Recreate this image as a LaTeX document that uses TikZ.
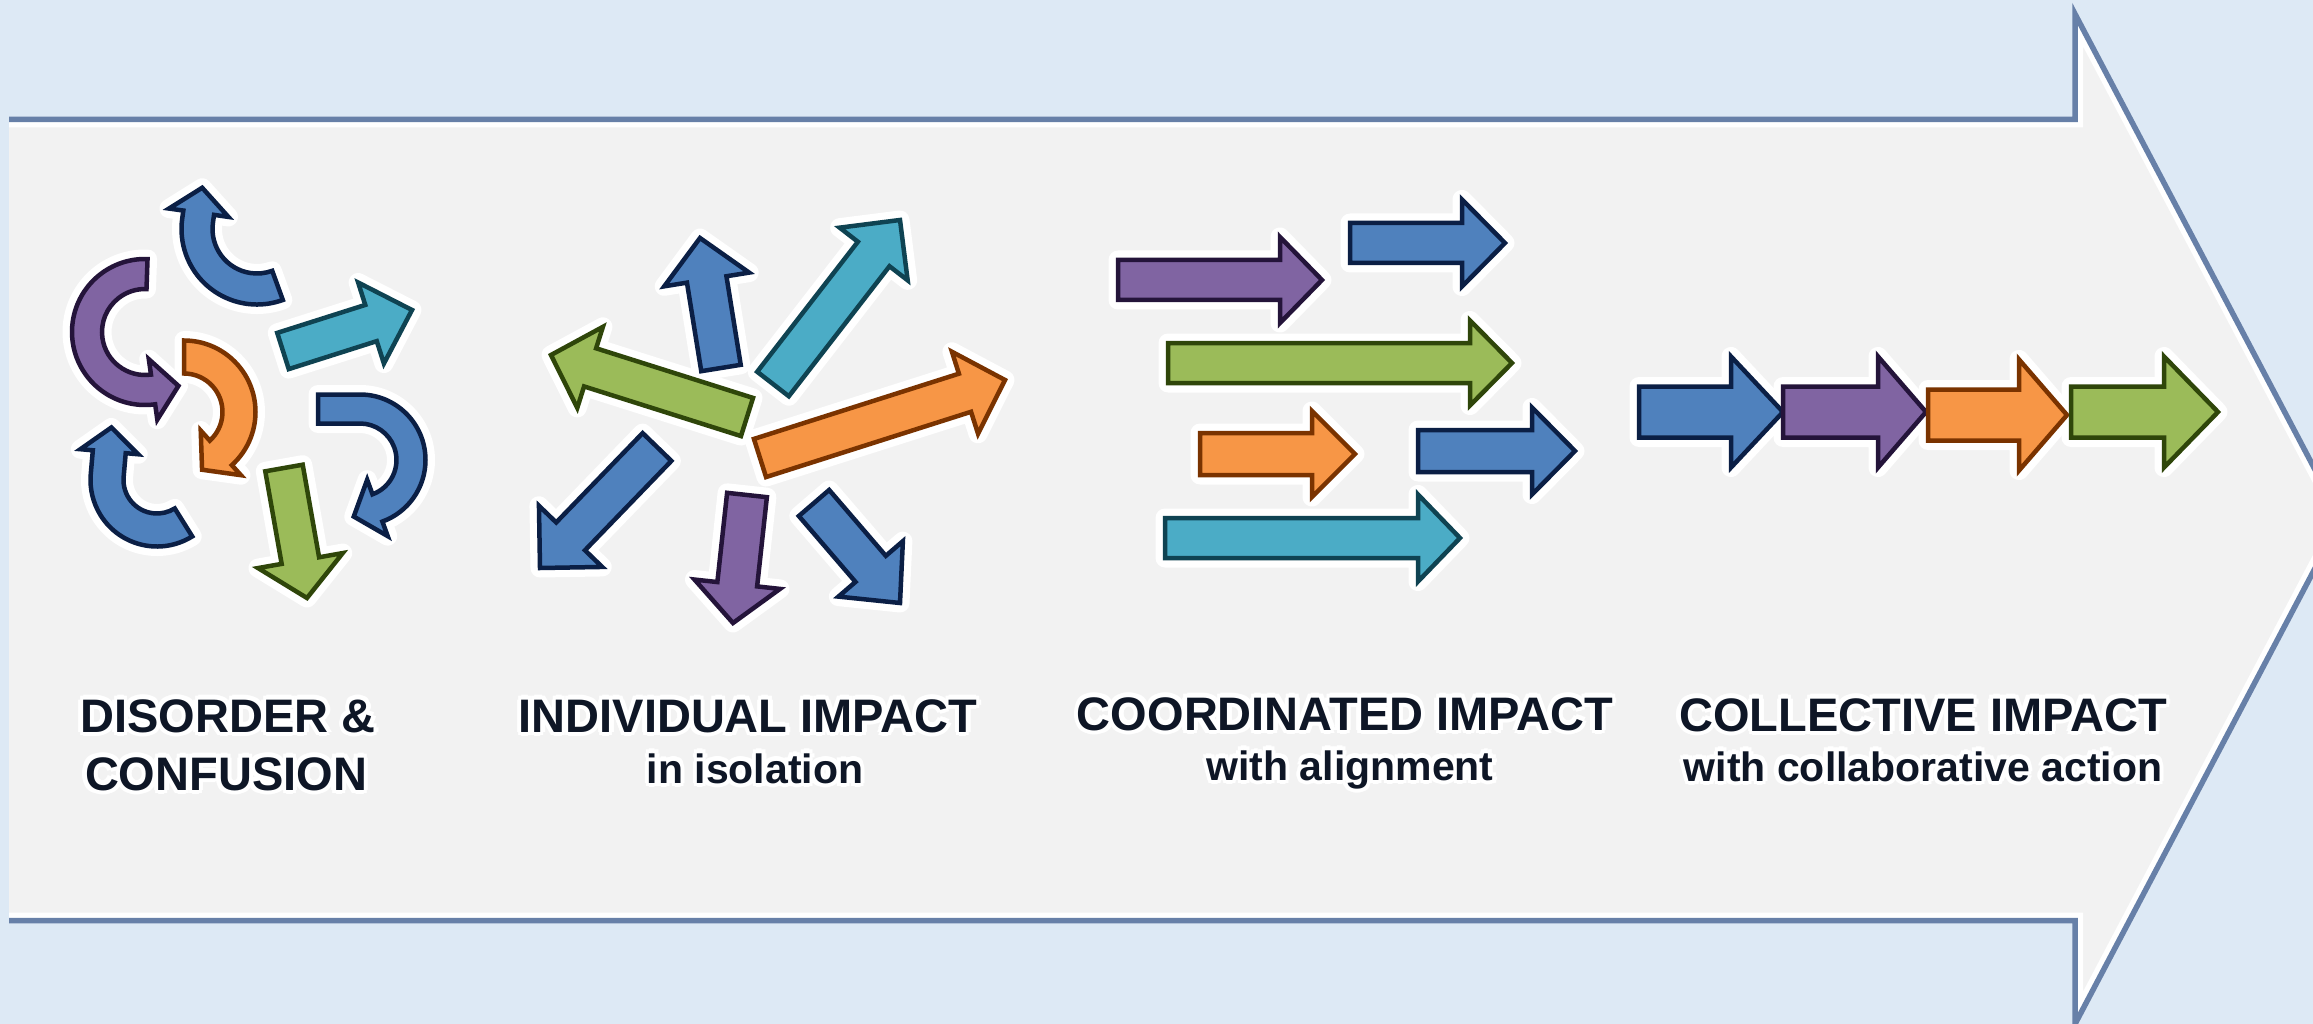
\documentclass[tikz,border=0pt]{standalone}
\usepackage{fontspec}
\setmainfont{Liberation Sans}
\usetikzlibrary{calc}
\definecolor{bg}{HTML}{DDE9F5}
\definecolor{panel}{HTML}{F2F2F2}
\definecolor{panelline}{HTML}{6780A8}
\definecolor{Bf}{HTML}{4F81BD}\definecolor{Bd}{HTML}{0B1F45}
\definecolor{Pf}{HTML}{8064A2}\definecolor{Pd}{HTML}{24143A}
\definecolor{Cf}{HTML}{4BACC6}\definecolor{Cd}{HTML}{0F4352}
\definecolor{Gf}{HTML}{9BBB59}\definecolor{Gd}{HTML}{2F460A}
\definecolor{Of}{HTML}{F79646}\definecolor{Od}{HTML}{7A3300}
\definecolor{txt}{HTML}{0E1626}
\tikzset{
  glowpass/.style={draw=white,fill=white,line width=19pt,line join=round},
  bodypass/.style={line width=4.5pt,line join=miter},
  cblue/.style={fill=Bf,draw=Bd},
  cpurple/.style={fill=Pf,draw=Pd},
  ccyan/.style={fill=Cf,draw=Cd},
  cgreen/.style={fill=Gf,draw=Gd},
  corange/.style={fill=Of,draw=Od},
  ttl/.style={font=\fontsize{47}{56}\selectfont\bfseries,text=txt,anchor=base,inner sep=0pt},
  sub/.style={font=\fontsize{41}{50}\selectfont\bfseries,text=txt,anchor=base,inner sep=0pt},
  pass/.style={bodypass}
}
% white halo behind text: shifted white copies
\newcommand\hcopy[3]{\rlap{\kern#1pt\raisebox{#2pt}{\color{white}#3}}}
\newcommand\gtext[1]{\hcopy{4.5}{0}{#1}\hcopy{-4.5}{0}{#1}\hcopy{0}{4.5}{#1}\hcopy{0}{-4.5}{#1}%
  \hcopy{3.2}{3.2}{#1}\hcopy{-3.2}{3.2}{#1}\hcopy{3.2}{-3.2}{#1}\hcopy{-3.2}{-3.2}{#1}#1}
% straight block arrow: colour, tail x,y, tip x,y, shaft width, head width, head length
\newcommand\sarr[8]{%
  \pgfmathsetmacro\sAw{#6/2}\pgfmathsetmacro\sAh{#7/2}%
  \coordinate (sA) at (#2,#3);
  \coordinate (sB) at (#4,#5);
  \coordinate (sH) at ($(sB)!#8pt!(sA)$);
  \path[#1,pass] ($(sA)!\sAw pt!90:(sB)$) -- ($(sH)!\sAw pt!-90:(sA)$)
    -- ($(sH)!\sAh pt!-90:(sA)$) -- (sB) -- ($(sH)!\sAh pt!90:(sA)$)
    -- ($(sH)!\sAw pt!90:(sA)$) -- ($(sA)!\sAw pt!-90:(sB)$) -- cycle;}
% curved block arrow
\pgfkeys{/carr/.cd,
  cx/.store in=\cAcx, cy/.store in=\cAcy, r/.store in=\cAr,
  a/.store in=\cAa, b/.store in=\cAb, w/.store in=\cAw,
  hw/.store in=\cAhw, et/.store in=\cAet, eh/.store in=\cAeh, hl/.store in=\cAhl}
\newcommand\carr[2]{%
  \pgfkeys{/carr/.cd, et=0, eh=0, hl=0.42, #2}%
  \pgfmathsetmacro\cAs{2*(\cAb>\cAa)-1}%
  \pgfmathsetmacro\cAro{\cAr+\cAw/2}%
  \pgfmathsetmacro\cAri{\cAr-\cAw/2}%
  \pgfmathsetmacro\cAho{\cAr+\cAhw/2}%
  \pgfmathsetmacro\cAhi{\cAr-\cAhw/2}%
  \pgfmathsetmacro\cATax{-\cAs*sin(\cAa)}%
  \pgfmathsetmacro\cATay{\cAs*cos(\cAa)}%
  \pgfmathsetmacro\cATbx{-\cAs*sin(\cAb)}%
  \pgfmathsetmacro\cATby{\cAs*cos(\cAb)}%
  \pgfmathsetmacro\cAtl{\cAeh+\cAhl*\cAhw}%
  \path[#1,pass]
    ({\cAcx+\cAro*cos(\cAa)-\cAet*\cATax},{\cAcy+\cAro*sin(\cAa)-\cAet*\cATay})
    -- ({\cAcx+\cAro*cos(\cAa)},{\cAcy+\cAro*sin(\cAa)})
    arc[start angle=\cAa, end angle=\cAb, radius=\cAro]
    -- ({\cAcx+\cAro*cos(\cAb)+\cAeh*\cATbx},{\cAcy+\cAro*sin(\cAb)+\cAeh*\cATby})
    -- ({\cAcx+\cAho*cos(\cAb)+\cAeh*\cATbx},{\cAcy+\cAho*sin(\cAb)+\cAeh*\cATby})
    -- ({\cAcx+\cAr*cos(\cAb)+\cAtl*\cATbx},{\cAcy+\cAr*sin(\cAb)+\cAtl*\cATby})
    -- ({\cAcx+\cAhi*cos(\cAb)+\cAeh*\cATbx},{\cAcy+\cAhi*sin(\cAb)+\cAeh*\cATby})
    -- ({\cAcx+\cAri*cos(\cAb)+\cAeh*\cATbx},{\cAcy+\cAri*sin(\cAb)+\cAeh*\cATby})
    -- ({\cAcx+\cAri*cos(\cAb)},{\cAcy+\cAri*sin(\cAb)})
    arc[start angle=\cAb, end angle=\cAa, radius=\cAri]
    -- ({\cAcx+\cAri*cos(\cAa)-\cAet*\cATax},{\cAcy+\cAri*sin(\cAa)-\cAet*\cATay})
    -- cycle;}
\newcommand\allarrows{%
  % disorder & confusion
  \carr{cblue}{cx=257,cy=229,r=60,a=70,b=188,w=31,hw=60,eh=8}
  \carr{cpurple}{cx=145,cy=332,r=58,a=272,b=82,w=30,hw=61}
  \carr{corange}{cx=184,cy=412,r=55,a=-90,b=48,w=33,hw=60}
  \carr{cblue}{cx=157,cy=480,r=50,a=58,b=185,w=33,hw=58,eh=24}
  \carr{cblue}{cx=360,cy=460,r=51,a=-90,b=70,w=29,hw=60,et=42}
  \sarr{ccyan}{283}{351}{412}{310}{38}{85}{43}
  \sarr{cgreen}{284}{468}{307}{598}{38}{86}{38}
  % individual impact
  \sarr{cblue}{721}{368}{700}{238}{40}{86}{42}
  \sarr{ccyan}{773}{384}{900}{220}{40}{86}{43}
  \sarr{cgreen}{747}{417}{551}{355}{40}{85}{41}
  \sarr{corange}{760}{458}{1005}{380}{40}{86}{42}
  \sarr{cblue}{657}{447}{540}{568}{40}{88}{44}
  \sarr{cpurple}{747}{495}{733}{623}{40}{86}{39}
  \sarr{cblue}{814}{503}{900}{603}{40}{85}{45}
  % coordinated impact
  \sarr{cpurple}{1118}{280}{1322}{280}{40}{86}{42}
  \sarr{cblue}{1350}{243}{1505}{243}{40}{87}{43}
  \sarr{cgreen}{1168}{363}{1512}{363}{40}{85}{42}
  \sarr{corange}{1200}{454}{1355}{454}{42}{86}{43}
  \sarr{cblue}{1418}{451}{1575}{451}{42}{87}{43}
  \sarr{ccyan}{1165}{538}{1460}{538}{40}{87}{42}
  % collective impact
  \sarr{cblue}{1639}{412}{1783}{412}{51}{111}{52}
  \sarr{cpurple}{1783}{412}{1926}{412}{51}{111}{48}
  \sarr{corange}{1928}{415}{2067}{415}{51}{111}{48}
  \sarr{cgreen}{2071}{412}{2218}{412}{51}{111}{54}
}
\begin{document}
\begin{tikzpicture}[x=1pt,y=-1pt]
\useasboundingbox (0,0) rectangle (2313,1024);
\clip (0,0) rectangle (2313,1024);
\fill[bg] (0,0) rectangle (2313,1024);
% big process arrow
\path[fill=panel] (9,119.5) -- (2075,119.5) -- (2075,14) -- (2341,519) -- (2075,1024) -- (2075,920.5) -- (9,920.5) -- cycle;
\begin{scope}
  \clip (9,119.5) -- (2075,119.5) -- (2075,14) -- (2341,519) -- (2075,1024) -- (2075,920.5) -- (9,920.5) -- cycle;
  \draw[white,line width=16pt] (9,119.5) -- (2075,119.5) -- (2075,14) -- (2341,519) -- (2075,1024) -- (2075,920.5) -- (9,920.5);
\end{scope}
\draw[panelline,line width=5.5pt] (9,119.5) -- (2075,119.5) -- (2075,14) -- (2341,519) -- (2075,1024) -- (2075,920.5) -- (9,920.5);
% small arrows: glow pass then body pass
\tikzset{pass/.style={glowpass}}
\allarrows
\tikzset{pass/.style={bodypass}}
\allarrows
% labels
\node[ttl] (t1a) at (228,732) {\gtext{DISORDER \&}};
\node[ttl] (t1b) at (226,790) {\gtext{CONFUSION}};
\node[ttl] (t2a) at (748,732) {\gtext{INDIVIDUAL IMPACT}};
\node[sub] (t2b) at (755,783) {\gtext{in isolation}};
\node[ttl] (t3a) at (1345,730) {\gtext{COORDINATED IMPACT}};
\node[sub] (t3b) at (1350,780) {\gtext{with alignment}};
\node[ttl] (t4a) at (1923,731) {\gtext{COLLECTIVE IMPACT}};
\node[sub] (t4b) at (1923,781) {\gtext{with collaborative action}};
\end{tikzpicture}
\end{document}
